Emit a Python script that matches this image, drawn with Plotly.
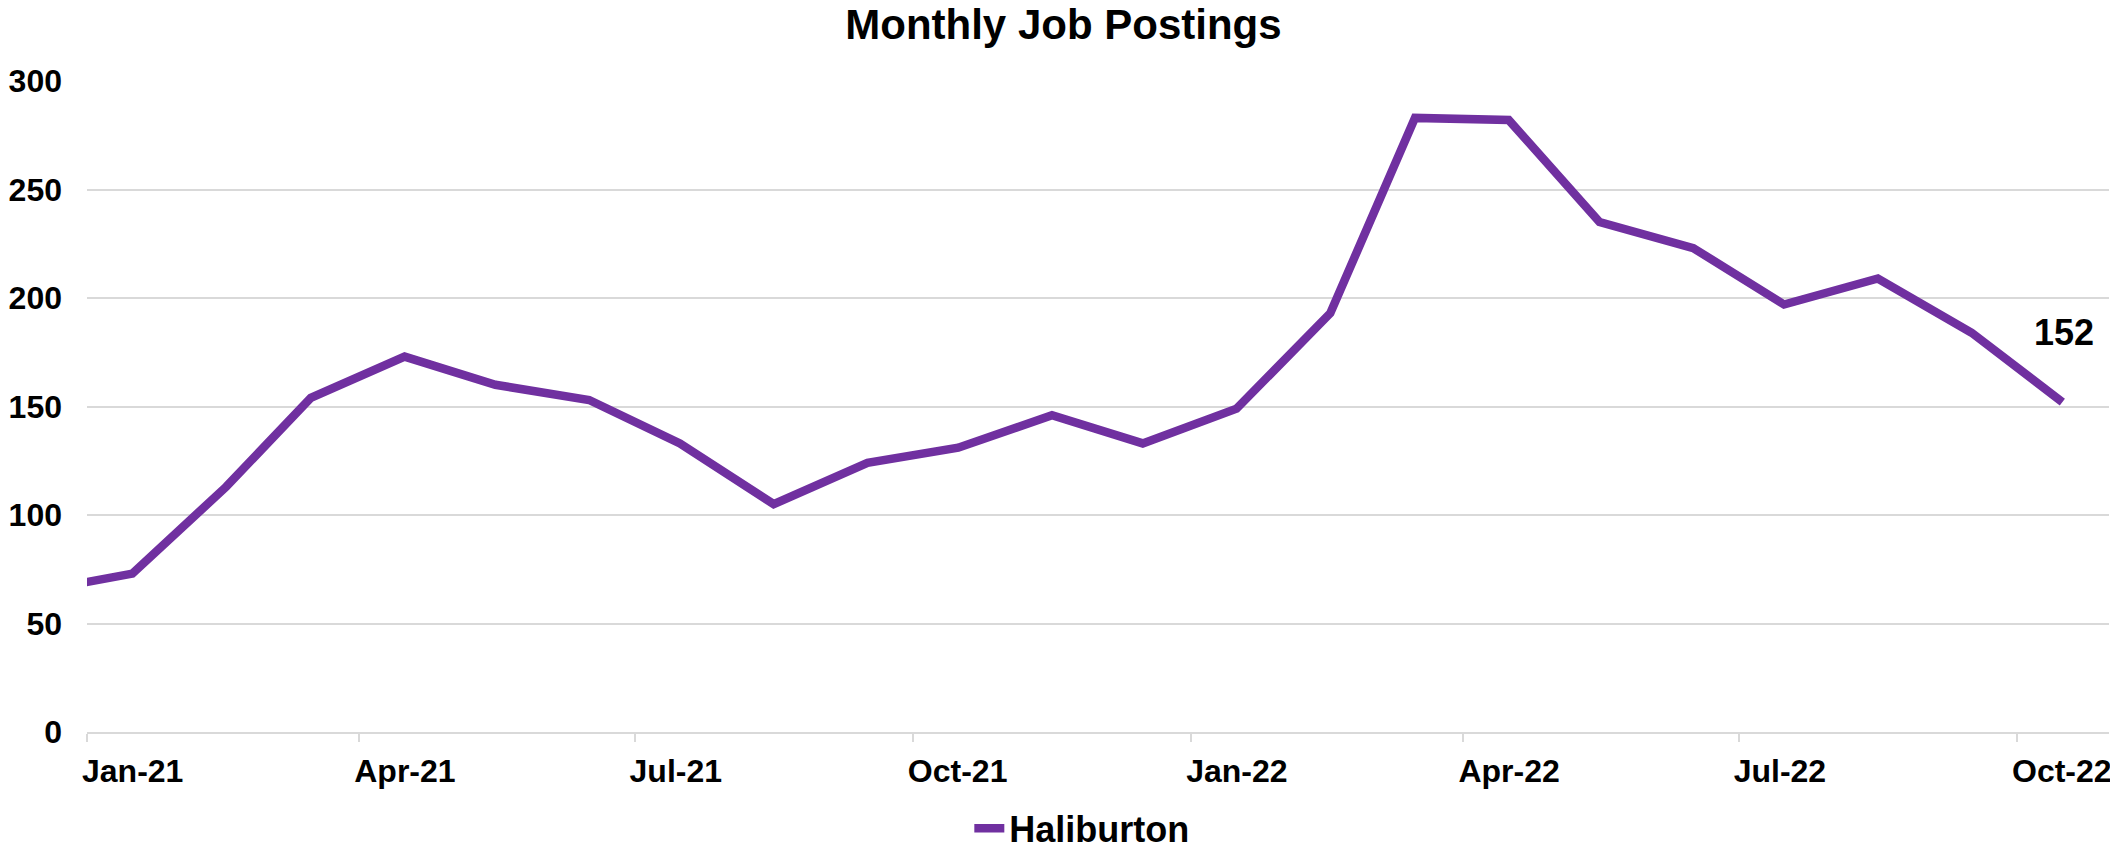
import plotly.graph_objects as go

months = ["2020-12-16", "2021-01-16", "2021-02-16", "2021-03-16", "2021-04-16", "2021-05-16",
          "2021-06-16", "2021-07-16", "2021-08-16", "2021-09-16", "2021-10-16", "2021-11-16",
          "2021-12-16", "2022-01-16", "2022-02-16", "2022-03-16", "2022-04-16", "2022-05-16",
          "2022-06-16", "2022-07-16", "2022-08-16", "2022-09-16", "2022-10-16"]
postings = [65, 73, 113, 154, 173, 160, 153, 133, 105, 124, 131, 146,
            133, 149, 193, 283, 282, 235, 223, 197, 209, 184, 152]
series_name = "Haliburton"
title_text = "Monthly Job Postings"
y_ticks = [0, 50, 100, 150, 200, 250, 300]

FONT = "Liberation Sans, Arial, sans-serif"
PURPLE = "#7030A0"
GRID = "#D9D9D9"

fig = go.Figure()
fig.add_trace(go.Scatter(
    x=months, y=postings, mode="lines", name="<b>%s</b>" % series_name,
    line=dict(color=PURPLE, width=8.5),
))

fig.add_annotation(
    x=months[-1], y=postings[-1], text="<b>%d</b>" % postings[-1],
    showarrow=False, yshift=70, xshift=2,
    font=dict(family=FONT, size=36, color="black"),
)

fig.update_layout(
    width=2110, height=851,
    margin=dict(l=87, r=1, t=81, b=119, autoexpand=False),
    paper_bgcolor="white", plot_bgcolor="white",
    title=dict(text="<b>%s</b>" % title_text, x=0.504, xanchor="center",
               y=1 - 24 / 851, yanchor="middle", yref="container",
               font=dict(family=FONT, size=42, color="black")),
    showlegend=True,
    legend=dict(orientation="h", x=0.492, xanchor="center", yref="paper",
                y=-0.148, yanchor="middle",
                font=dict(family=FONT, size=36, color="black")),
    font=dict(family=FONT, color="black"),
)

fig.update_xaxes(
    type="date", range=["2021-01-01", "2022-10-31 10:00"],
    tick0="2021-01-01", dtick="M3", tickformat="<b>%b-%y</b>",
    ticks="outside", ticklen=8, tickwidth=2, tickcolor=GRID,
    showline=True, linecolor=GRID, linewidth=2,
    showgrid=False, zeroline=False,
    ticklabelposition="outside right", ticklabeloverflow="allow",
    ticklabelstandoff=10, ticklabelshift=-7,
    automargin=False,
    tickfont=dict(family=FONT, size=32, color="black"),
)
fig.update_yaxes(
    range=[0, 300], tickvals=y_ticks, ticktext=["<b>%d</b>" % v for v in y_ticks],
    showgrid=True, gridcolor=GRID, gridwidth=2,
    zeroline=False, showline=False, ticks="",
    ticklabelstandoff=24, automargin=False,
    tickfont=dict(family=FONT, size=32, color="black"),
)

fig.write_html(
    "out.html",
    config={"displayModeBar": False},
    post_script="document.body.style.margin='0';document.body.style.overflow='hidden';",
)
